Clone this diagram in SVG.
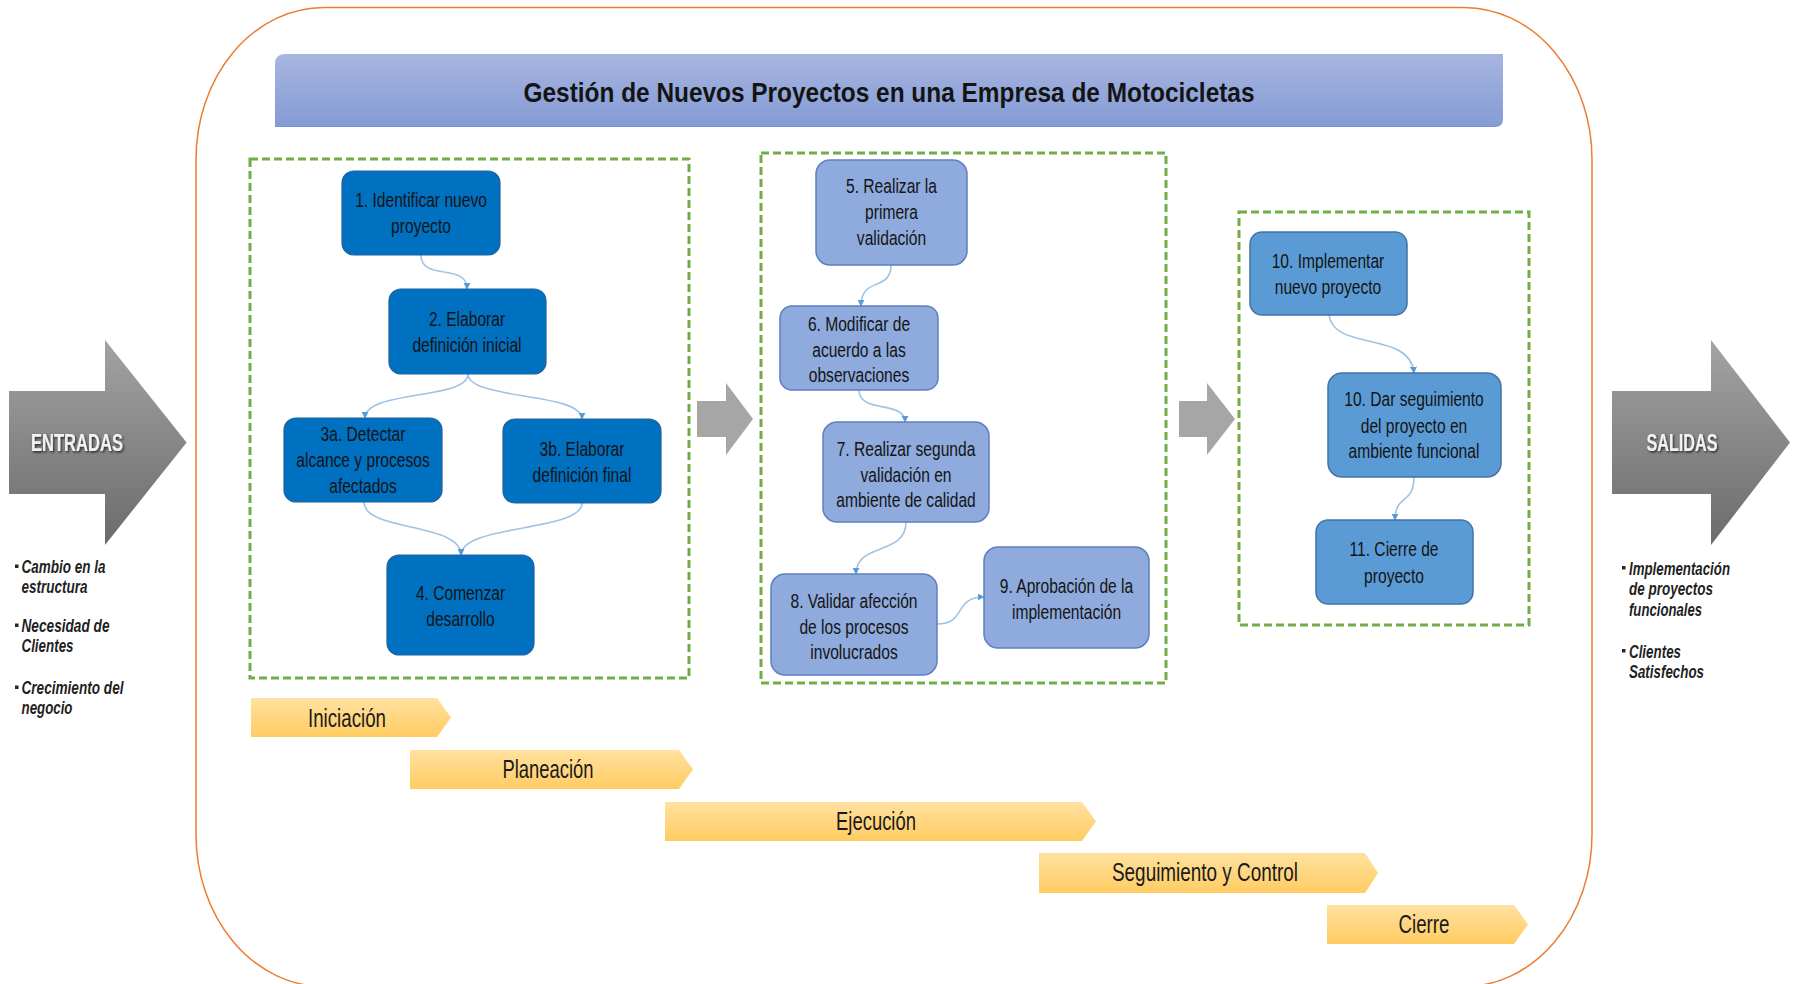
<svg xmlns="http://www.w3.org/2000/svg" width="1794" height="984" viewBox="0 0 1794 984">
<defs>
<linearGradient id="gTitle" x1="0" y1="0" x2="0" y2="1"><stop offset="0" stop-color="#A7B5E0"/><stop offset="1" stop-color="#849BD5"/></linearGradient>
<linearGradient id="gYel" x1="0" y1="0" x2="0" y2="1"><stop offset="0" stop-color="#FFE1A0"/><stop offset="1" stop-color="#FFCC62"/></linearGradient>
<linearGradient id="gGray" x1="0" y1="0" x2="0" y2="1"><stop offset="0" stop-color="#A3A3A3"/><stop offset="1" stop-color="#6B6B6B"/></linearGradient>
<filter id="sh" x="-20%" y="-40%" width="140%" height="180%"><feDropShadow dx="1.2" dy="1.5" stdDeviation="0.8" flood-color="#000" flood-opacity="0.7"/></filter>
<marker id="ah" viewBox="0 0 10 10" refX="9" refY="5" markerWidth="7" markerHeight="7" markerUnits="userSpaceOnUse" orient="auto"><path d="M0,0 L10,5 L0,10 z" fill="#5B9BD5"/></marker>
</defs>
<style>
.nt{font-family:"Liberation Sans",Arial,sans-serif;font-size:19.5px;fill:#141414;text-anchor:middle}
.n1{fill:#0070C0;stroke:#21609E;stroke-width:1.2}
.n2{fill:#8FAADC;stroke:#5E7FC2;stroke-width:1.5}
.n3{fill:#5B9BD5;stroke:#4273A8;stroke-width:1.5}
.dash{fill:none;stroke:#70AD47;stroke-width:3;stroke-dasharray:8 4}
.con{fill:none;stroke:#9DC3E6;stroke-width:1.6;marker-end:url(#ah)}
.ph{fill:url(#gYel)}
.pt{font-family:"Liberation Sans",Arial,sans-serif;font-size:25px;fill:#1a1a1a;text-anchor:middle}
.bt{font-family:"Liberation Sans",Arial,sans-serif;font-size:17.5px;font-weight:bold;font-style:italic;fill:#1f1f1f}
.io{font-family:"Liberation Sans",Arial,sans-serif;font-size:23px;font-weight:bold;fill:#F2F2F2;text-anchor:middle;filter:url(#sh)}
</style>
<rect width="1794" height="984" fill="#FFFFFF"/>

<g id="frame">
<rect x="196" y="7.5" width="1396" height="979" rx="128" ry="152" fill="none" stroke="#ED7D31" stroke-width="1.5"/>
</g>

<g id="title">
<path d="M285,54 H1503 V119 Q1503,127 1495,127 H275 V64 Q275,54 285,54 Z" fill="url(#gTitle)"/>
<path d="M275,126.5 H1495" stroke="#7890CF" stroke-width="1.2" fill="none"/>
<text x="889" y="102" font-family="'Liberation Sans',Arial,sans-serif" font-size="28.5" font-weight="bold" fill="#141414" text-anchor="middle" textLength="731" lengthAdjust="spacingAndGlyphs">Gestión de Nuevos Proyectos en una Empresa de Motocicletas</text>
</g>

<g id="phase-boxes">
<rect class="dash" x="250" y="159" width="439" height="519"/>
<rect class="dash" x="761" y="153" width="405" height="530"/>
<rect class="dash" x="1239" y="212" width="290" height="413"/>
</g>

<g id="entradas">
<polygon points="9,391 105,391 105,340 186.6,442.5 105,545 105,494 9,494" fill="url(#gGray)"/>
<text class="io" x="77" y="451" textLength="92" lengthAdjust="spacingAndGlyphs">ENTRADAS</text>
</g>
<g id="salidas">
<polygon points="1612,391 1711,391 1711,340 1790,442.5 1711,545 1711,494 1612,494" fill="url(#gGray)"/>
<text class="io" x="1682" y="451" textLength="71" lengthAdjust="spacingAndGlyphs">SALIDAS</text>
</g>

<g id="arrow-1-2"><polygon points="697,401 726,401 726,383 753,419 726,455 726,437 697,437" fill="#A6A6A6"/></g>
<g id="arrow-2-3"><polygon points="1179,401 1207,401 1207,383 1235,419 1207,455 1207,437 1179,437" fill="#A6A6A6"/></g>

<g id="inputs">
<rect x="15" y="564.5" width="3.5" height="3.5" fill="#262626"/>
<text class="bt" x="21.5" y="573" textLength="84" lengthAdjust="spacingAndGlyphs">Cambio en la</text>
<text class="bt" x="21.5" y="593" textLength="66" lengthAdjust="spacingAndGlyphs">estructura</text>
<rect x="15" y="623.5" width="3.5" height="3.5" fill="#262626"/>
<text class="bt" x="21.5" y="632" textLength="88" lengthAdjust="spacingAndGlyphs">Necesidad de</text>
<text class="bt" x="21.5" y="652" textLength="52" lengthAdjust="spacingAndGlyphs">Clientes</text>
<rect x="15" y="685.5" width="3.5" height="3.5" fill="#262626"/>
<text class="bt" x="21.5" y="694" textLength="102" lengthAdjust="spacingAndGlyphs">Crecimiento del</text>
<text class="bt" x="21.5" y="714" textLength="51" lengthAdjust="spacingAndGlyphs">negocio</text>
</g>

<g id="outputs">
<rect x="1622" y="566" width="3.5" height="3.5" fill="#262626"/>
<text class="bt" x="1629" y="575" textLength="101" lengthAdjust="spacingAndGlyphs">Implementación</text>
<text class="bt" x="1629" y="595" textLength="84" lengthAdjust="spacingAndGlyphs">de proyectos</text>
<text class="bt" x="1629" y="616" textLength="73" lengthAdjust="spacingAndGlyphs">funcionales</text>
<rect x="1622" y="649" width="3.5" height="3.5" fill="#262626"/>
<text class="bt" x="1629" y="658" textLength="52" lengthAdjust="spacingAndGlyphs">Clientes</text>
<text class="bt" x="1629" y="678" textLength="75" lengthAdjust="spacingAndGlyphs">Satisfechos</text>
</g>

<g id="connectors">
<path class="con" d="M421,255 C421,282 467,262 467,289"/>
<path class="con" d="M468,374 C468,400 365,390 365,418"/>
<path class="con" d="M468,374 C468,400 582,392 582,419"/>
<path class="con" d="M364,502 C364,532 461,522 461,555"/>
<path class="con" d="M582,503 C582,532 461,524 461,555"/>
<path class="con" d="M891,265 C891,292 861,276 861,306"/>
<path class="con" d="M859,390 C859,414 905,400 905,422"/>
<path class="con" d="M906,522 C906,556 856,542 856,574"/>
<path class="con" d="M937,624 C967,624 953,597 984,597"/>
<path class="con" d="M1329,315 C1334,352 1410,330 1414,373"/>
<path class="con" d="M1414,477 C1414,505 1395,494 1395,520"/>
</g>

<g id="n1"><rect class="n1" x="342" y="171" width="158" height="84" rx="12"/>
<g transform="translate(421,0) scale(0.8,1)"><text class="nt" x="0" y="207">1. Identificar nuevo</text><text class="nt" x="0" y="233">proyecto</text></g></g>
<g id="n2"><rect class="n1" x="389" y="289" width="157" height="85" rx="12"/>
<g transform="translate(467,0) scale(0.8,1)"><text class="nt" x="0" y="326">2. Elaborar</text><text class="nt" x="0" y="352">definición inicial</text></g></g>
<g id="n3a"><rect class="n1" x="284" y="418" width="158" height="84" rx="12"/>
<g transform="translate(363,0) scale(0.8,1)"><text class="nt" x="0" y="441">3a. Detectar</text><text class="nt" x="0" y="467">alcance y procesos</text><text class="nt" x="0" y="493">afectados</text></g></g>
<g id="n3b"><rect class="n1" x="503" y="419" width="158" height="84" rx="12"/>
<g transform="translate(582,0) scale(0.8,1)"><text class="nt" x="0" y="456">3b. Elaborar</text><text class="nt" x="0" y="482">definición final</text></g></g>
<g id="n4"><rect class="n1" x="387" y="555" width="147" height="100" rx="12"/>
<g transform="translate(460.5,0) scale(0.8,1)"><text class="nt" x="0" y="600">4. Comenzar</text><text class="nt" x="0" y="626">desarrollo</text></g></g>

<g id="n5"><rect class="n2" x="816" y="160" width="151" height="105" rx="14"/>
<g transform="translate(891.5,0) scale(0.8,1)"><text class="nt" x="0" y="193">5. Realizar la</text><text class="nt" x="0" y="219">primera</text><text class="nt" x="0" y="245">validación</text></g></g>
<g id="n6"><rect class="n2" x="780" y="306" width="158" height="84" rx="12"/>
<g transform="translate(859,0) scale(0.8,1)"><text class="nt" x="0" y="331">6. Modificar de</text><text class="nt" x="0" y="357">acuerdo a las</text><text class="nt" x="0" y="382">observaciones</text></g></g>
<g id="n7"><rect class="n2" x="823" y="422" width="166" height="100" rx="14"/>
<g transform="translate(906,0) scale(0.8,1)"><text class="nt" x="0" y="456">7. Realizar segunda</text><text class="nt" x="0" y="482">validación en</text><text class="nt" x="0" y="507">ambiente de calidad</text></g></g>
<g id="n8"><rect class="n2" x="771" y="574" width="166" height="101" rx="14"/>
<g transform="translate(854,0) scale(0.8,1)"><text class="nt" x="0" y="608">8. Validar afección</text><text class="nt" x="0" y="634">de los procesos</text><text class="nt" x="0" y="659">involucrados</text></g></g>
<g id="n9"><rect class="n2" x="984" y="547" width="165" height="101" rx="14"/>
<g transform="translate(1066.5,0) scale(0.8,1)"><text class="nt" x="0" y="593">9. Aprobación de la</text><text class="nt" x="0" y="619">implementación</text></g></g>

<g id="n10a"><rect class="n3" x="1250" y="232" width="157" height="83" rx="12"/>
<g transform="translate(1328,0) scale(0.8,1)"><text class="nt" x="0" y="268">10. Implementar</text><text class="nt" x="0" y="294">nuevo proyecto</text></g></g>
<g id="n10b"><rect class="n3" x="1328" y="373" width="173" height="104" rx="14"/>
<g transform="translate(1414,0) scale(0.8,1)"><text class="nt" x="0" y="406">10. Dar seguimiento</text><text class="nt" x="0" y="433">del proyecto en</text><text class="nt" x="0" y="458">ambiente funcional</text></g></g>
<g id="n11"><rect class="n3" x="1316" y="520" width="157" height="84" rx="12"/>
<g transform="translate(1394,0) scale(0.8,1)"><text class="nt" x="0" y="556">11. Cierre de</text><text class="nt" x="0" y="583">proyecto</text></g></g>

<g id="phase-iniciacion"><polygon class="ph" points="251,698 437,698 451,717.5 437,737 251,737"/>
<text class="pt" x="347" y="727" textLength="78" lengthAdjust="spacingAndGlyphs">Iniciación</text></g>
<g id="phase-planeacion"><polygon class="ph" points="410,750 679,750 693,769.5 679,789 410,789"/>
<text class="pt" x="548" y="778" textLength="91" lengthAdjust="spacingAndGlyphs">Planeación</text></g>
<g id="phase-ejecucion"><polygon class="ph" points="665,802 1082,802 1096,821.5 1082,841 665,841"/>
<text class="pt" x="876" y="830" textLength="80" lengthAdjust="spacingAndGlyphs">Ejecución</text></g>
<g id="phase-seguimiento"><polygon class="ph" points="1039,853 1365,853 1378,873 1365,893 1039,893"/>
<text class="pt" x="1205" y="881" textLength="186" lengthAdjust="spacingAndGlyphs">Seguimiento y Control</text></g>
<g id="phase-cierre"><polygon class="ph" points="1327,905 1514,905 1528,924.5 1514,944 1327,944"/>
<text class="pt" x="1424" y="933" textLength="51" lengthAdjust="spacingAndGlyphs">Cierre</text></g>
</svg>
